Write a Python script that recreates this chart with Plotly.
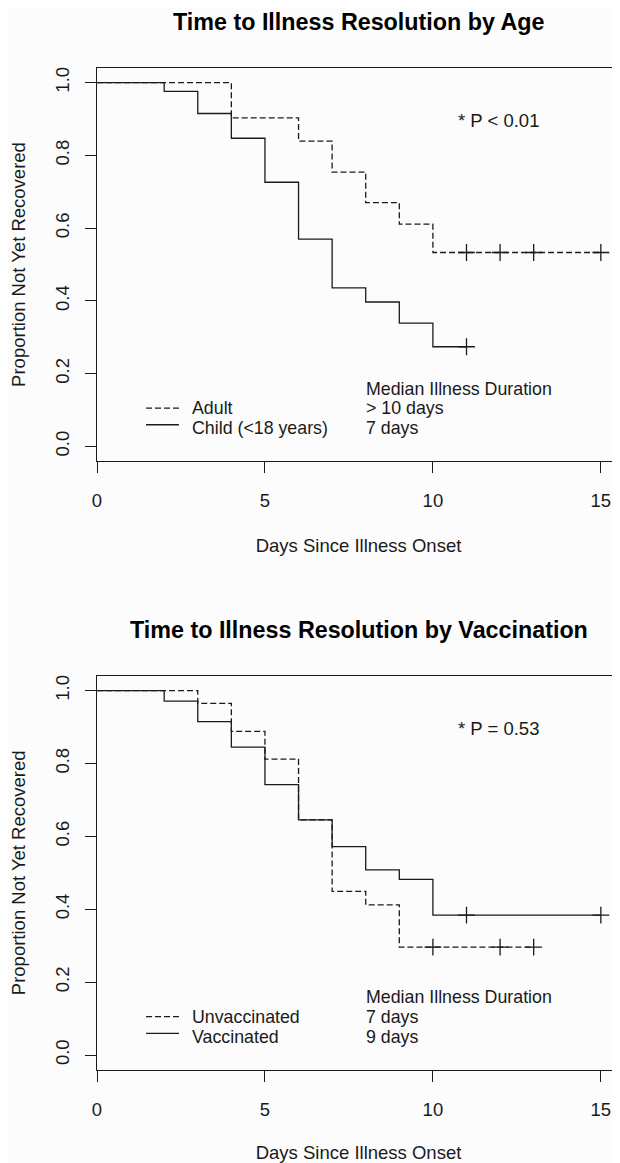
import plotly.graph_objects as go

# ---------------- data ----------------
# Top panel: by age
adult_times = [0, 4, 6, 7, 8, 9, 10]
adult_surv = [1.0, 0.903, 0.839, 0.754, 0.670, 0.611, 0.533]
adult_end = 15
adult_censor = [11, 12, 13, 15]

child_times = [0, 2, 3, 4, 5, 6, 7, 8, 9, 10]
child_surv = [1.0, 0.976, 0.915, 0.847, 0.726, 0.570, 0.436, 0.397, 0.339, 0.274]
child_end = 11
child_censor = [11]

# Bottom panel: by vaccination
unvac_times = [0, 3, 4, 5, 6, 7, 8, 9]
unvac_surv = [1.0, 0.965, 0.888, 0.812, 0.645, 0.449, 0.412, 0.296]
unvac_end = 13
unvac_censor = [10, 12, 13]

vac_times = [0, 2, 3, 4, 5, 6, 7, 8, 9, 10]
vac_surv = [1.0, 0.971, 0.915, 0.845, 0.742, 0.645, 0.572, 0.508, 0.482, 0.384]
vac_end = 15
vac_censor = [11, 15]

x_ticks = [0, 5, 10, 15]
y_ticks = [0.0, 0.2, 0.4, 0.6, 0.8, 1.0]

titles = ["Time to Illness Resolution by Age", "Time to Illness Resolution by Vaccination"]
p_texts = ["* P < 0.01", "* P = 0.53"]
legend_labels = [["Adult", "Child (<18 years)"], ["Unvaccinated", "Vaccinated"]]
median_texts = [["Median Illness Duration", "> 10 days", "7 days"],
                ["Median Illness Duration", "7 days", "9 days"]]

# ---------------- style ----------------
OFF = 8  # page body margin
W, H = 620 - OFF, 1163 - OFF
FONT = "Liberation Sans, Arial, sans-serif"
INK = "#1a1a1a"
BG = "#fcfcfc"
LW = 1.3
DASH = "6px,3px"

X_LEFT_PX = 97 - OFF
X_DOMAIN = [X_LEFT_PX / W, 1.0]
X_RANGE = [0, 15.57]
Y_RANGE = [-0.04, 1.04]
TOP_PANEL = [68 - OFF, 461 - OFF]
BOT_PANEL = [676 - OFF, 1069.6 - OFF]
PX_PER_UNIT = 364.0


def dom(px):
    return [1 - px[1] / H, 1 - px[0] / H]


def step_at(times, surv, t):
    v = surv[0]
    for tt, s in zip(times, surv):
        if tt <= t:
            v = s
    return v


fig = go.Figure()


def add_curve(times, surv, end, censor, dash, xa, ya, name):
    xs = list(times) + [end]
    ys = list(surv) + [surv[-1]]
    fig.add_trace(go.Scatter(x=xs, y=ys, mode="lines", line_shape="hv",
                             line=dict(color=INK, width=LW, dash=dash),
                             xaxis=xa, yaxis=ya, name=name, showlegend=False,
                             hoverinfo="skip"))
    cy = [step_at(times, surv, t) for t in censor]
    fig.add_trace(go.Scatter(x=censor, y=cy, mode="markers",
                             marker=dict(symbol="cross-thin", size=12,
                                         line=dict(color=INK, width=1.3)),
                             xaxis=xa, yaxis=ya, showlegend=False, hoverinfo="skip"))


add_curve(adult_times, adult_surv, adult_end, adult_censor, DASH, "x", "y", "Adult")
add_curve(child_times, child_surv, child_end, child_censor, "solid", "x", "y", "Child")
add_curve(unvac_times, unvac_surv, unvac_end, unvac_censor, DASH, "x2", "y2", "Unvaccinated")
add_curve(vac_times, vac_surv, vac_end, vac_censor, "solid", "x2", "y2", "Vaccinated")

tickfont = dict(family=FONT, size=18.5, color=INK)


def xaxis_cfg(anchor):
    return dict(domain=X_DOMAIN, range=X_RANGE, anchor=anchor,
                tickvals=x_ticks, ticks="outside", ticklen=11, tickwidth=1.2,
                tickcolor=INK, showline=True, linecolor=INK, linewidth=1.3,
                mirror=True, showgrid=False, zeroline=False,
                tickfont=tickfont, ticklabelstandoff=12, automargin=False,
                title=dict(text="Days Since Illness Onset", standoff=28,
                           font=dict(family=FONT, size=18.5, color=INK)))


def yaxis_cfg(anchor, panel):
    return dict(domain=dom(panel), range=Y_RANGE, anchor=anchor,
                tickvals=y_ticks, tickformat=".1f", tickangle=-90,
                ticks="outside", ticklen=11, tickwidth=1.2, tickcolor=INK,
                showline=True, linecolor=INK, linewidth=1.3, mirror=False,
                showgrid=False, zeroline=False, tickfont=tickfont,
                ticklabelstandoff=8, automargin=False,
                title=dict(text="Proportion Not Yet Recovered", standoff=27,
                           font=dict(family=FONT, size=18.5, color=INK)))


# text rows inside the panels, in pixels above the y=0 line
row_px = [57.6, 38.0, 18.4]
line_px = [38.4, 21.7]
to_y = lambda p: p / PX_PER_UNIT

annotations = []
shapes = []
title_y_px = [22 - OFF, 630 - OFF]
for i, (xa, ya) in enumerate([("x", "y"), ("x2", "y2")]):
    annotations.append(dict(text="<b>" + titles[i] + "</b>", xref="paper", yref="paper",
                            x=(X_LEFT_PX + 621 - OFF) / 2 / W, y=1 - title_y_px[i] / H,
                            xanchor="center", yanchor="middle", showarrow=False,
                            font=dict(family=FONT, size=23.3, color="#000000")))
    annotations.append(dict(text=p_texts[i], xref=xa, yref=ya, x=10.68, y=0.896,
                            xanchor="left", yanchor="middle", showarrow=False,
                            font=dict(family=FONT, size=18.5, color=INK)))
    for j, t in enumerate(median_texts[i]):
        annotations.append(dict(text=t, xref=xa, yref=ya, x=7.95, y=to_y(row_px[j]),
                                xanchor="left", yanchor="middle", showarrow=False,
                                font=dict(family=FONT, size=17.8, color=INK)))
    for j, lab in enumerate(legend_labels[i]):
        annotations.append(dict(text=lab, xref=xa, yref=ya, x=2.76, y=to_y(row_px[j + 1]),
                                xanchor="left", yanchor="middle", showarrow=False,
                                font=dict(family=FONT, size=17.8, color=INK)))
        ly = to_y(line_px[j])
        shapes.append(dict(type="line", xref=xa, yref=ya, x0=1.46, x1=2.44, y0=ly, y1=ly,
                           line=dict(color=INK, width=LW, dash=DASH if j == 0 else "solid")))

fig.update_layout(
    width=W, height=H,
    margin=dict(l=0, r=0, t=0, b=0),
    paper_bgcolor=BG, plot_bgcolor=BG,
    showlegend=False,
    xaxis=xaxis_cfg("y"), yaxis=yaxis_cfg("x", TOP_PANEL),
    xaxis2=xaxis_cfg("y2"), yaxis2=yaxis_cfg("x2", BOT_PANEL),
    annotations=annotations, shapes=shapes,
)

fig.write_html("out.html")
